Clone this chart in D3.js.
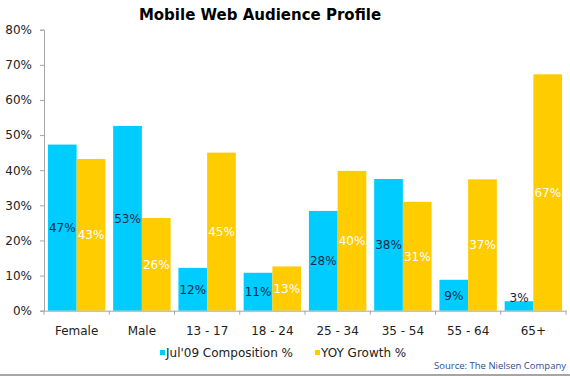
<!DOCTYPE html>
<html>
<head>
<meta charset="utf-8">
<script src="https://cdn.jsdelivr.net/npm/d3@7"></script>
<style>
  html, body { margin: 0; padding: 0; background: #fff; }
  svg { display: block; }
</style>
</head>
<body>
<svg id="chart" width="570" height="376"></svg>
<script>
// data
const categories = ['Female', 'Male', '13 - 17', '18 - 24', '25 - 34', '35 - 54', '55 - 64', '65+'];
const composition = [47.3, 52.6, 12.2, 10.8, 28.4, 37.5, 8.8, 2.7];
const yoyGrowth = [43.2, 26.4, 45.0, 12.6, 39.8, 31.0, 37.4, 67.3];
const seriesNames = ["Jul'09 Composition %", 'YOY Growth %'];
const yTicks = [0, 10, 20, 30, 40, 50, 60, 70, 80];

const BLUE = '#00ccff';
const GOLD = '#ffcc00';
const FONT = 'DejaVu Sans, Verdana, sans-serif';

const svg = d3.select('#chart');
const width = 570, height = 376;
const margin = { top: 30, right: 4, bottom: 65, left: 44 };

const x = d3.scaleBand()
    .domain(categories)
    .range([margin.left, width - margin.right])
    .paddingInner(0.12)
    .paddingOuter(0.06);

const x1 = d3.scaleBand()
    .domain([0, 1])
    .range([0, x.bandwidth()]);

const y = d3.scaleLinear()
    .domain([0, 80])
    .range([310.7, 29.7]);

// title
svg.append('text')
    .attr('x', 260).attr('y', 20)
    .attr('text-anchor', 'middle')
    .attr('font-family', FONT)
    .attr('font-weight', 'bold')
    .attr('font-size', '15px')
    .attr('fill', '#000')
    .text('Mobile Web Audience Profile');

// bars
const rows = categories.map((c, i) => ({ cat: c, vals: [composition[i], yoyGrowth[i]] }));
const colors = [BLUE, GOLD];

const groups = svg.append('g').selectAll('g')
    .data(rows)
    .enter().append('g')
    .attr('transform', d => `translate(${x(d.cat)},0)`);

groups.selectAll('rect')
    .data(d => d.vals.map((v, s) => ({ v, s })))
    .enter().append('rect')
    .attr('x', d => x1(d.s))
    .attr('width', x1.bandwidth())
    .attr('y', d => y(d.v))
    .attr('height', d => y(0) - y(d.v))
    .attr('fill', d => colors[d.s]);

// value labels, centred in the bar
groups.selectAll('text')
    .data(d => d.vals.map((v, s) => ({ v, s })))
    .enter().append('text')
    .attr('x', d => x1(d.s) + x1.bandwidth() / 2)
    .attr('y', d => Math.min((y(d.v) + y(0)) / 2, y(0) - 13))
    .attr('dy', '0.36em')
    .attr('text-anchor', 'middle')
    .attr('font-family', FONT)
    .attr('font-size', '12px')
    .attr('fill', d => d.s === 0 ? '#10284a' : '#fff')
    .text(d => Math.round(d.v) + '%');

// y axis
const yAxis = svg.append('g')
    .attr('transform', `translate(${margin.left},0)`)
    .call(d3.axisLeft(y).tickValues(yTicks).tickFormat(d => d + '%').tickSize(4).tickPadding(8));
yAxis.select('.domain').attr('stroke', '#a6a6a6');
yAxis.selectAll('.tick line').attr('stroke', '#a6a6a6');
yAxis.selectAll('text')
    .attr('font-family', FONT)
    .attr('font-size', '12px')
    .attr('fill', '#222');

// x axis: ticks between categories
const xAxis = svg.append('g')
    .attr('transform', `translate(0,${y(0)})`)
    .call(d3.axisBottom(x).tickSize(0).tickPadding(16));
xAxis.select('.domain').attr('stroke', '#a6a6a6');
xAxis.selectAll('text')
    .attr('font-family', FONT)
    .attr('font-size', '12px')
    .attr('fill', '#222');
const sepX = d => x(d) - x.step() * x.paddingInner() / 2;
xAxis.selectAll('.sep')
    .data(categories)
    .enter().append('line')
    .attr('class', 'sep')
    .attr('x1', sepX)
    .attr('x2', sepX)
    .attr('y1', 0).attr('y2', 4)
    .attr('stroke', '#a6a6a6');
xAxis.append('line')
    .attr('x1', sepX(categories[categories.length - 1]) + x.step())
    .attr('x2', sepX(categories[categories.length - 1]) + x.step())
    .attr('y1', 0).attr('y2', 4)
    .attr('stroke', '#a6a6a6');

// legend
const legendX = [160, 315];
const legend = svg.append('g').selectAll('g')
    .data(seriesNames)
    .enter().append('g')
    .attr('transform', (d, i) => `translate(${legendX[i]},353)`);
legend.append('rect')
    .attr('x', 0).attr('y', -3)
    .attr('width', 5).attr('height', 5)
    .attr('fill', (d, i) => colors[i]);
legend.append('text')
    .attr('x', 6).attr('dy', '0.36em')
    .attr('font-family', FONT)
    .attr('font-size', '12px')
    .attr('fill', '#222')
    .text(d => d);

// source note
svg.append('text')
    .attr('x', 566).attr('y', 369)
    .attr('text-anchor', 'end')
    .attr('font-family', 'Open Sans, sans-serif')
    .attr('font-size', '9.5px')
    .attr('fill', '#2a4f8f')
    .text('Source: The Nielsen Company');

// bottom rule
svg.append('line')
    .attr('x1', 0).attr('x2', width)
    .attr('y1', 375).attr('y2', 375)
    .attr('stroke', '#a6a6a6')
    .attr('stroke-width', 2);
</script>
</body>
</html>
